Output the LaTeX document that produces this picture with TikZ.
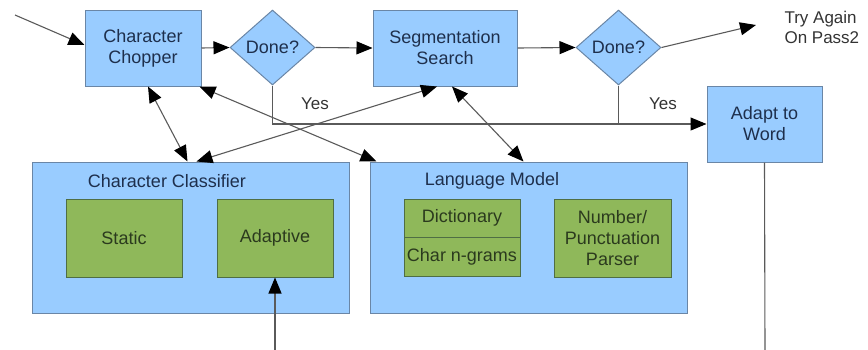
\documentclass[tikz,border=0pt]{standalone}
\usepackage{fontspec}
\setmainfont{Liberation Sans}
\usetikzlibrary{shapes.geometric,arrows.meta}
\definecolor{bluefill}{HTML}{99CCFF}
\definecolor{blueline}{HTML}{6A86A6}
\definecolor{greenfill}{HTML}{8FB85A}
\definecolor{greenline}{HTML}{4F6E44}
\definecolor{navytext}{HTML}{1E2F4C}
\definecolor{greentext}{HTML}{2B3A1E}
\definecolor{linecol}{HTML}{5A5A5A}
\tikzset{
  bluebox/.style={draw=blueline, fill=bluefill, line width=1pt, inner sep=0pt,
    text=navytext, align=center, font=\fontsize{18}{21}\selectfont},
  greenbox/.style={draw=greenline, fill=greenfill, line width=1pt, inner sep=0pt,
    text=greentext, align=center, font=\fontsize{18}{21}\selectfont},
  decision/.style={diamond, draw=blueline, fill=bluefill, line width=1pt, inner sep=0pt,
    minimum width=85pt, minimum height=75pt, text=navytext, font=\fontsize{18}{21}\selectfont},
  conn/.style={draw=linecol, line width=1.1pt},
  plain/.style={text=black!80, align=left, font=\fontsize{17}{20}\selectfont},
  >={Triangle[length=16pt,width=13pt,color=black]}
}
\begin{document}
\begin{tikzpicture}[x=1pt,y=-1pt]
\useasboundingbox (0,0) rectangle (868,349);
% top row
\node[bluebox, minimum width=116pt, minimum height=76pt] (chop) at (143,48) {Character\\Chopper};
\node[decision] (d1) at (272.5,47.5) {Done?};
\node[bluebox, minimum width=144pt, minimum height=76pt] (seg) at (445,48) {Segmentation\\Search};
\node[decision] (d2) at (618.5,47.5) {Done?};
\node[plain, anchor=west] (try) at (781,27) {Try Again\\On Pass2};
\node[bluebox, minimum width=115pt, minimum height=76pt] (adapt) at (764.5,124) {Adapt to\\Word};
\node[plain] (yes1) at (315,104) {Yes};
\node[plain] (yes2) at (663,104) {Yes};
% lower containers
\node[bluebox, minimum width=317pt, minimum height=151pt] (cls) at (190.5,237.5) {};
\node[text=navytext, font=\fontsize{18}{21}\selectfont] (clslbl) at (167,181) {Character Classifier};
\node[greenbox, minimum width=116pt, minimum height=78pt] (static) at (124,238) {Static};
\node[greenbox, minimum width=116pt, minimum height=78pt] (adaptive) at (275,238) {Adaptive};
\node[bluebox, minimum width=317pt, minimum height=151pt] (lm) at (528.5,237.5) {};
\node[text=navytext, font=\fontsize{18}{21}\selectfont] (lmlbl) at (492,181) {Language Model};
\node[greenbox, minimum width=116pt, minimum height=38pt] (dict) at (462,218) {Dictionary};
\node[greenbox, minimum width=116pt, minimum height=39pt] (ngram) at (462,256.5) {Char n-grams};
\node[greenbox, minimum width=117pt, minimum height=78pt] (num) at (612.5,238) {Number/\\Punctuation\\Parser};
% free ends
\coordinate (inpt) at (15,15);
\coordinate (tryend) at (756,25);
\coordinate (bot1) at (765,350);
\coordinate (bot2) at (275,350);
% connectors
\draw[conn,->] (inpt) -- ([yshift=3pt]chop.west);
\draw[conn,->] (chop.east) -- (d1.west);
\draw[conn,->] (d1.east) -- (seg.west);
\draw[conn,->] (seg.east) -- (d2.west);
\draw[conn,->] (d2.east) -- (tryend);
\draw[conn,->] (d1.south) |- (adapt.west);
\draw[conn] (d2.south) -- (d2.south |- adapt.west);
\draw[conn,<->] ([xshift=5pt]chop.south) -- ([xshift=-3pt]cls.north);
\draw[conn,<->] ([xshift=-8pt]seg.south) -- ([xshift=6pt]cls.north);
\draw[conn,<->] ([xshift=7pt]seg.south) -- ([xshift=-5pt]lm.north);
\draw[conn,<->] ([xshift=-2pt]chop.south east) -- ([xshift=7pt]lm.north west);
\draw[conn] (adapt.south) -- (bot1);
\draw[conn,->] (bot2) -- (adaptive.south);
\end{tikzpicture}
\end{document}
